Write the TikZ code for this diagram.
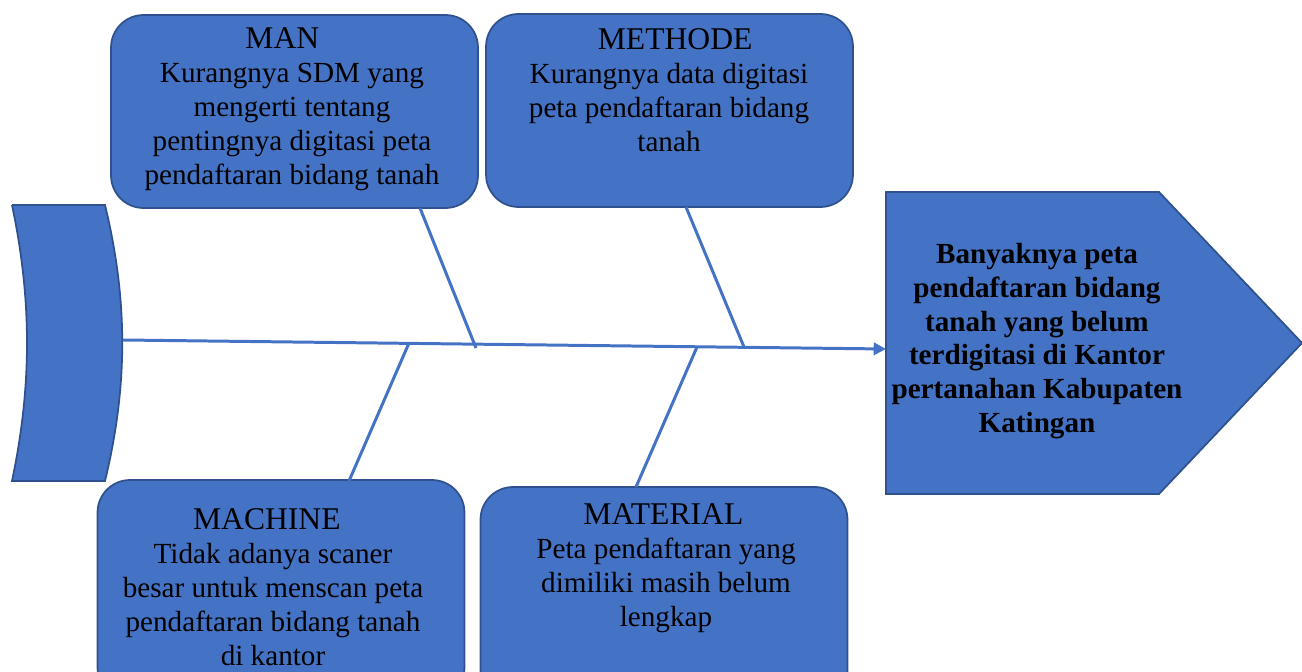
\documentclass[tikz,border=0pt]{standalone}
\usepackage{fontspec}
\setmainfont{Liberation Serif}
\usetikzlibrary{arrows.meta}
\definecolor{boxblue}{HTML}{4472C4}
\definecolor{edgeblue}{HTML}{2F528F}
\tikzset{
  cause/.style={draw=edgeblue, line width=1pt, fill=boxblue, rounded corners=0.65cm,
    minimum width=7.34cm, minimum height=3.86cm},
  causetext/.style={anchor=north, align=center, inner sep=0pt,
    font=\fontsize{16.6pt}{19.4pt}\selectfont},
  bone/.style={draw=boxblue, line width=1.7pt},
}
\newcommand{\headword}[1]{{\fontsize{18pt}{19.4pt}\selectfont #1}}
\begin{document}
\begin{tikzpicture}[x=0.02cm, y=-0.02cm]
    \clip (0,0) rectangle (1302,672);
    % tail and head of the fish
    \draw [draw=edgeblue, line width=1pt, fill=boxblue]
      (12,205) -- (105,205) .. controls (128,300) and (128,386) .. (105,481)
      -- (12,481) .. controls (32,386) and (32,300) .. (12,205);
    \draw [draw=edgeblue, line width=1pt, fill=boxblue]
      (886,192) -- (1159,192) -- (1302,343) -- (1159,494) -- (886,494) -- cycle;
    \node [causetext, font=\bfseries\fontsize{16.6pt}{19.2pt}\selectfont] (effect) at (1037,243)
      {Banyaknya peta\\pendaftaran bidang\\tanah yang belum\\terdigitasi di Kantor\\pertanahan Kabupaten\\Katingan};
    % cause boxes
    \node [cause] (man) at (294.5,111.5) {};
    \node [cause] (methode) at (669.5,110.5) {};
    \node [cause, minimum height=4.4cm] (machine) at (281,590) {};
    \node [cause, minimum height=4.4cm] (material) at (664,597) {};
    \node [causetext] (mantext) at (292,27)
      {\headword{MAN}\hspace*{11pt}\\Kurangnya SDM yang\\mengerti tentang\\pentingnya digitasi peta\\pendaftaran bidang tanah};
    \node [causetext] (methodetext) at (669,28)
      {\hspace*{7pt}\headword{METHODE}\\Kurangnya data digitasi\\peta pendaftaran bidang\\tanah};
    \node [causetext] (machinetext) at (273,508)
      {\headword{MACHINE}\hspace*{7pt}\\Tidak adanya scaner\\besar untuk menscan peta\\pendaftaran bidang tanah\\di kantor};
    \node [causetext] (materialtext) at (666,503)
      {\headword{MATERIAL}\hspace*{3pt}\\Peta pendaftaran yang\\dimiliki masih belum\\lengkap};
    % spine and bones
    \coordinate (tail) at (123,340);
    \coordinate (head) at (886,349);
    \coordinate (manfoot) at (420,208);
    \coordinate (manjoint) at (476,348);
    \coordinate (methodefoot) at (686,207);
    \coordinate (methodejoint) at (744,347);
    \coordinate (machinefoot) at (349,481);
    \coordinate (machinejoint) at (409,343);
    \coordinate (materialfoot) at (636,487);
    \coordinate (materialjoint) at (697,347);
    \draw [bone, -{Triangle[length=7pt,width=7pt]}] (tail) -- (head);
    \foreach \b in {man,methode,machine,material} {
      \draw [bone] (\b foot) -- (\b joint);
    }
\end{tikzpicture}
\end{document}
